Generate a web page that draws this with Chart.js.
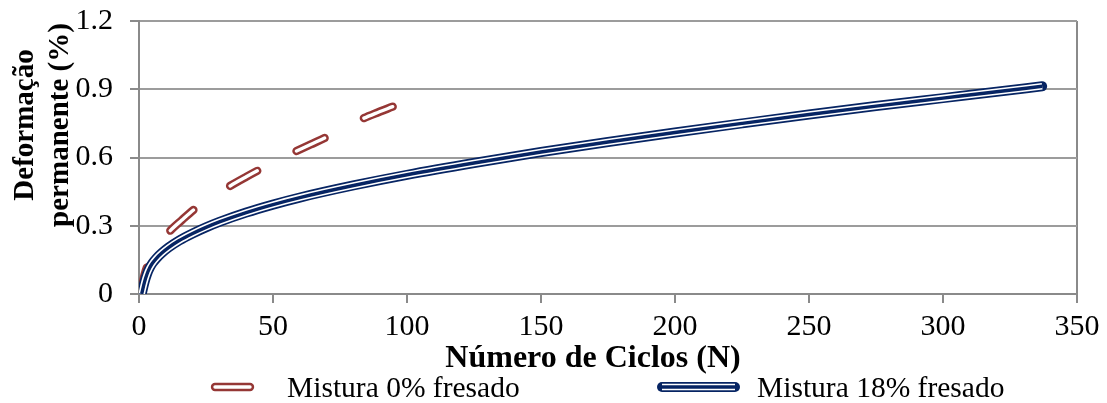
<!DOCTYPE html>
<html><head><meta charset="utf-8">
<script src="https://cdn.jsdelivr.net/npm/chart.js@4.4.0/dist/chart.umd.min.js"></script>
<style>html,body{margin:0;padding:0;background:#fff;}#wrap{width:1107px;height:403px;}</style>
</head><body><div id="wrap"><canvas id="c" width="1107" height="403"></canvas></div>
<script>
// ---- data ----
const seriesNames = ['Mistura 0% fresado', 'Mistura 18% fresado'];
const redN = [0.8, 1.6, 2.6, 4, 7, 11, 16, 22, 28, 34, 40, 46, 52, 58, 64, 70, 76, 82, 88, 95];
const redY = [0, 0.06, 0.105, 0.145, 0.208, 0.27, 0.325, 0.385, 0.43, 0.475, 0.515, 0.553, 0.59, 0.624, 0.657, 0.69, 0.728, 0.763, 0.793, 0.825];
const blueN = [1, 2, 3, 4, 5, 6.5, 8.5, 11, 15, 20, 25, 30, 40, 50, 60, 80, 100, 125, 150, 175, 200, 225, 250, 275, 300, 320, 337];
const blueY = [0, 0.05, 0.088, 0.115, 0.135, 0.157, 0.18, 0.204, 0.235, 0.266, 0.293, 0.317, 0.358, 0.393, 0.424, 0.477, 0.524, 0.576, 0.624, 0.668, 0.71, 0.75, 0.789, 0.826, 0.861, 0.889, 0.913];
const xTickValues = [0, 50, 100, 150, 200, 250, 300, 350];
const yTickLabels = ['0', '0.3', '0.6', '0.9', '1.2'];
const xTitle = 'Número de Ciclos (N)';
const yTitleLines = ['Deformação', 'permanente (%)'];

const RED = '#953735';
const BLUE = '#062463';
const GRID = '#9c9c9c';
const AXIS = '#8a8a8a';
const SERIF = '"Liberation Serif", "Times New Roman", serif';

const toPts = (xs, ys) => xs.map((x, i) => ({x: x, y: ys[i]}));
const redPts = toPts(redN, redY);
const bluePts = toPts(blueN, blueY);

const common = {pointRadius: 0, pointHoverRadius: 0, fill: false, cubicInterpolationMode: 'monotone', borderJoinStyle: 'round'};
const DASH = [31, 44];
const DASH_OFF = 4;

const datasets = [
  Object.assign({label: seriesNames[1], data: bluePts, borderColor: BLUE, borderWidth: 3.4, borderCapStyle: 'butt', order: 1}, common),
  Object.assign({label: seriesNames[1] + ' w', data: bluePts, borderColor: '#ffffff', borderWidth: 6.6, borderCapStyle: 'butt', order: 2}, common),
  Object.assign({label: seriesNames[1] + ' o', data: bluePts, borderColor: BLUE, borderWidth: 10, borderCapStyle: 'round', order: 3}, common),
  Object.assign({label: seriesNames[0] + ' w', data: redPts, borderColor: '#ffffff', borderWidth: 3.4, borderCapStyle: 'round', borderDash: DASH, borderDashOffset: DASH_OFF, order: 4}, common),
  Object.assign({label: seriesNames[0], data: redPts, borderColor: RED, borderWidth: 8.4, borderCapStyle: 'round', borderDash: DASH, borderDashOffset: DASH_OFF, order: 5}, common)
];

const decor = {
  id: 'decor',
  afterDraw(chart) {
    const ctx = chart.ctx;
    ctx.save();
    ctx.fillStyle = '#000';
    // x title
    ctx.font = 'bold 32px ' + SERIF;
    ctx.textAlign = 'center';
    ctx.textBaseline = 'alphabetic';
    ctx.fillText(xTitle, 593, 367);
    // y title (two lines, rotated)
    ctx.font = 'bold 29px ' + SERIF;
    const xs = [33, 68];
    yTitleLines.forEach((t, i) => {
      ctx.save();
      ctx.translate(xs[i], 125);
      ctx.rotate(-Math.PI / 2);
      ctx.fillText(t, 0, 0);
      ctx.restore();
    });
    // legend
    const ly = 387;
    ctx.lineCap = 'round';
    ctx.strokeStyle = RED; ctx.lineWidth = 8.4;
    ctx.beginPath(); ctx.moveTo(215, ly); ctx.lineTo(250, ly); ctx.stroke();
    ctx.strokeStyle = '#fff'; ctx.lineWidth = 3.4;
    ctx.beginPath(); ctx.moveTo(215, ly); ctx.lineTo(250, ly); ctx.stroke();
    ctx.strokeStyle = BLUE; ctx.lineWidth = 10;
    ctx.beginPath(); ctx.moveTo(662, ly); ctx.lineTo(735, ly); ctx.stroke();
    ctx.lineCap = 'butt';
    ctx.strokeStyle = '#fff'; ctx.lineWidth = 6.6;
    ctx.beginPath(); ctx.moveTo(662, ly); ctx.lineTo(735, ly); ctx.stroke();
    ctx.strokeStyle = BLUE; ctx.lineWidth = 3.4;
    ctx.beginPath(); ctx.moveTo(662, ly); ctx.lineTo(735, ly); ctx.stroke();
    ctx.font = '29.5px ' + SERIF;
    ctx.textAlign = 'left';
    ctx.fillStyle = '#000';
    ctx.fillText(seriesNames[0], 287, 397);
    ctx.fillText(seriesNames[1], 757, 397);
    ctx.restore();
  }
};

new Chart(document.getElementById('c'), {
  type: 'line',
  data: {datasets: datasets},
  options: {
    responsive: false,
    animation: false,
    devicePixelRatio: 1,
    layout: {padding: {left: 0, right: 30, top: 21, bottom: 0}},
    plugins: {legend: {display: false}, tooltip: {enabled: false}},
    scales: {
      x: {
        type: 'linear', min: 0, max: 350,
        afterBuildTicks: (s) => { s.ticks = xTickValues.map(v => ({value: v})); },
        afterFit: (s) => { s.height = 109; s.paddingLeft = 0; s.paddingRight = 0; s.paddingTop = 0; s.paddingBottom = 0; },
        ticks: {font: {family: SERIF, size: 30}, color: '#000', padding: 6, maxRotation: 0, autoSkip: false},
        grid: {
          color: (c) => (c.tick && c.tick.value === 350) ? AXIS : 'rgba(0,0,0,0)',
          tickColor: AXIS, tickLength: 9, lineWidth: 2, drawOnChartArea: true
        },
        border: {color: AXIS, width: 2}
      },
      y: {
        type: 'linear', min: 0, max: 1.2,
        afterBuildTicks: (s) => { s.ticks = yTickLabels.map(t => ({value: parseFloat(t)})); },
        afterFit: (s) => { s.width = 139; s.paddingLeft = 0; s.paddingRight = 0; s.paddingTop = 0; s.paddingBottom = 0; },
        ticks: {font: {family: SERIF, size: 30}, color: '#000', padding: 17,
          callback: (v, i) => yTickLabels[i]},
        grid: {color: GRID, tickColor: AXIS, tickLength: 9, lineWidth: 2},
        border: {color: AXIS, width: 2}
      }
    }
  },
  plugins: [decor]
});
</script>
</body></html>
